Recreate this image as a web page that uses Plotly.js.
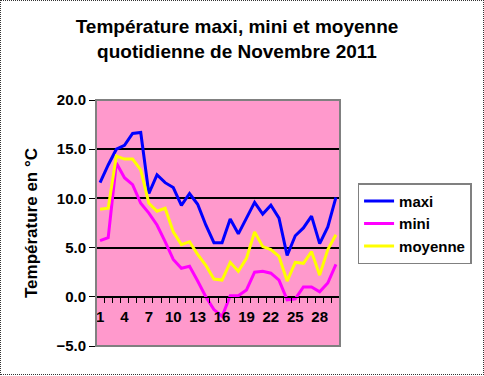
<!DOCTYPE html>
<html>
<head>
<meta charset="utf-8">
<script src="https://cdn.plot.ly/plotly-3.0.1.min.js"></script>
<style>
html,body{margin:0;padding:0;background:#fff;}
#wrap{position:relative;width:484px;height:376px;}
#chart{position:absolute;left:0;top:0;width:484px;height:376px;}
#frame{position:absolute;left:0;top:0;width:482px;height:373px;border:1px dotted #333;pointer-events:none;}
</style>
</head>
<body>
<div id="wrap"><div id="chart"></div><div id="frame"></div></div>
<script>
const days = [1,2,3,4,5,6,7,8,9,10,11,12,13,14,15,16,17,18,19,20,21,22,23,24,25,26,27,28,29,30];
const maxi = [11.6,13.4,15.0,15.4,16.6,16.7,10.5,12.4,11.6,11.1,9.3,10.5,9.4,7.3,5.5,5.5,7.9,6.4,8.0,9.6,8.4,9.3,8.0,4.2,6.2,7.0,8.2,5.4,7.1,10.1];
const mini = [5.7,6.0,13.6,12.1,11.4,9.5,8.5,7.3,5.6,3.8,2.9,3.1,1.6,0.0,-1.3,-2.0,0.1,0.1,0.7,2.5,2.6,2.4,1.7,-0.3,-0.2,1.0,1.0,0.5,1.4,3.3];
const moyenne = [8.9,9.0,14.3,14.0,14.0,12.9,9.5,8.7,9.0,6.6,5.3,5.6,4.3,3.2,1.8,1.7,3.5,2.6,3.9,6.6,5.1,4.8,4.1,1.6,3.5,3.4,4.6,2.2,4.8,6.3];
const xLabels = [1,4,7,10,13,16,19,22,25,28];
const yTicks = [-5,0,5,10,15,20];

const F = 'Liberation Sans, Arial, sans-serif';
const traces = [
  {x: days, y: maxi, name: 'maxi', mode: 'lines', line: {color: '#0000FF', width: 3}},
  {x: days, y: mini, name: 'mini', mode: 'lines', line: {color: '#FF00FF', width: 3}},
  {x: days, y: moyenne, name: 'moyenne', mode: 'lines', line: {color: '#FFFF00', width: 3}}
];
const halfTicks = [];
for (let i = 0; i <= days.length; i++) halfTicks.push(days[0] - 0.5 + i);

const layout = {
  width: 484, height: 376,
  margin: {l: 96, r: 132, t: 100, b: 30},
  paper_bgcolor: '#FFFFFF',
  plot_bgcolor: '#FF99CC',
  title: {text: '<b>Température maxi, mini et moyenne<br>quotidienne de Novembre 2011</b>',
    font: {family: F, size: 19, color: '#000'}, x: 237/484, xref: 'container', xanchor: 'center',
    y: 1 - 33/376, yref: 'container', yanchor: 'middle'},
  showlegend: true,
  legend: {x: 1.072, y: 0.662, xanchor: 'left', yanchor: 'top', bgcolor: '#FFFFFF',
    bordercolor: '#808080', borderwidth: 1.5, font: {family: F, size: 15, color: '#000', weight: 'bold'},
    tracegroupgap: 0},
  xaxis: {
    range: [0.5, 30.5], anchor: 'free', position: 0.2,
    tickmode: 'array', tickvals: xLabels, ticktext: xLabels.map(String),
    ticks: 'outside', ticklen: 6, tickcolor: 'rgba(0,0,0,0)',
    tickfont: {family: F, size: 15, color: '#000', weight: 'bold'},
    showline: true, linecolor: '#000', linewidth: 1,
    showgrid: false, zeroline: false,
    minor: {tickmode: 'array', tickvals: halfTicks, ticks: 'outside', ticklen: 5, tickcolor: '#000', tickwidth: 1, showgrid: false}
  },
  yaxis: {
    range: [-5, 20], tickmode: 'array', tickvals: yTicks,
    tickformat: '.1f',
    ticks: 'outside', ticklen: 6, tickcolor: '#000', tickwidth: 1,
    tickfont: {family: F, size: 15, color: '#000', weight: 'bold'},
    showgrid: true, gridcolor: '#000', gridwidth: 2,
    zeroline: false, showline: false,
    title: {text: 'Température en °C', font: {family: F, size: 17, color: '#000', weight: 'bold'}, standoff: 14}
  },
  shapes: [
    {type: 'rect', xref: 'paper', yref: 'paper', x0: 0, x1: 1, y0: 0, y1: 1,
     line: {color: '#808080', width: 2}, layer: 'above'}
  ]
};
Plotly.newPlot('chart', traces, layout, {displayModeBar: false, staticPlot: true});
</script>
</body>
</html>
